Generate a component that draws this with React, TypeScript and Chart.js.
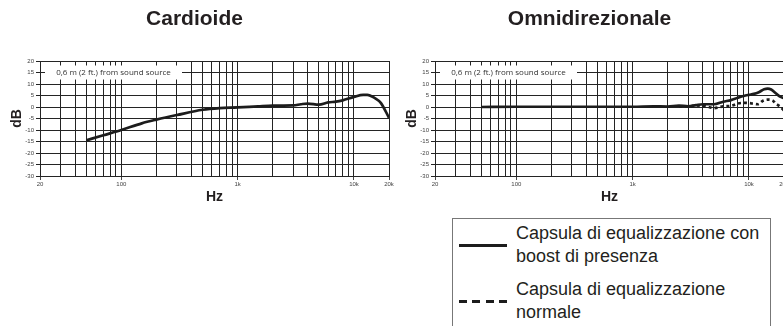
import React, { useEffect, useRef } from 'react';
import { Chart, registerables } from 'chart.js';

Chart.register(...registerables);

// ---------- data ----------
const chartTitles = ['Cardioide', 'Omnidirezionale'];
const xAxisTitle = 'Hz';
const yAxisTitle = 'dB';
const noteText = '0,6 m (2 ft.) from sound source';

const gridFreqs = [
  20, 30, 40, 50, 60, 70, 80, 90, 100, 200, 300, 400, 500, 600, 700, 800, 900,
  1000, 2000, 3000, 4000, 5000, 6000, 7000, 8000, 9000, 10000, 20000,
];
const labelFreqs = [20, 100, 1000, 10000, 20000];
const labelTexts = ['20', '100', '1k', '10k', '20k'];

const cardFreq = [50, 70, 100, 150, 200, 300, 500, 700, 1000, 1500, 2000, 3000, 3500, 4000, 5000, 6000, 7000, 8000, 10000, 12000, 13000, 15000, 17000, 20000];
const cardDb = [-14.5, -12.3, -10, -7.1, -5.5, -3.5, -1.2, -0.5, -0.2, 0.3, 0.6, 0.7, 1.2, 1.5, 1.0, 2.0, 2.3, 2.9, 4.4, 5.3, 5.3, 4.0, 1.8, -4.7];

const omniBoostFreq = [50, 100, 500, 1000, 1500, 2000, 2500, 3000, 3500, 4000, 5000, 6000, 7000, 8000, 9000, 10000, 11000, 12000, 13500, 14500, 15500, 17000, 18500, 20000];
const omniBoostDb = [0, 0.1, 0.1, 0.1, 0.3, 0.2, 0.6, 0.3, 0.8, 1.2, 1.2, 2.3, 3.0, 4.0, 4.8, 5.3, 5.7, 6.3, 7.7, 8.0, 7.6, 6.0, 4.5, 3.8];

const omniNormFreq = [2500, 3000, 3500, 4000, 4500, 5000, 6000, 7000, 8000, 9000, 10000, 11000, 12000, 13000, 14500, 16000, 17000, 18500, 20000];
const omniNormDb = [0.2, 0.1, 0.7, 0.5, 0.0, -0.5, 0.3, 0.5, 1.5, 1.8, 1.7, 1.4, 1.2, 2.5, 3.2, 2.8, 1.5, 0.2, -1.5];

const legendLabels = ['Capsula di equalizzazione con boost di presenza', 'Capsula di equalizzazione normale'];

// ---------- styles ----------
const FONT = '"Liberation Sans", Arial, Helvetica, sans-serif';
const GRID = '#242424';
const INK = '#231f20';

const toPoints = (f: number[], d: number[]) => f.map((x, i) => ({ x, y: d[i] }));

const noteBoxPlugin = {
  id: 'noteBox',
  beforeDatasetsDraw(chart: any, _args: any, opts: any) {
    const { ctx, chartArea, scales } = chart;
    const yc = scales.y.getPixelForValue(15);
    const x0 = chartArea.left + 5;
    ctx.save();
    ctx.fillStyle = '#ffffff';
    ctx.fillRect(x0, yc - 7, 137, 14);
    ctx.font = '8px "Open Sans", "Liberation Sans", sans-serif';
    ctx.fillStyle = '#333';
    ctx.textAlign = 'center';
    ctx.textBaseline = 'middle';
    ctx.fillText(opts.text, x0 + 68.5, yc + 0.5);
    ctx.restore();
  },
};

function makeConfig(title: string, datasets: any[]): any {
  return {
    type: 'line',
    data: { datasets },
    options: {
      responsive: false,
      animation: false,
      events: [],
      layout: { padding: { left: 0, right: 6, top: 0, bottom: 0 } },
      elements: { point: { radius: 0 } },
      plugins: {
        legend: { display: false },
        tooltip: { enabled: false },
        title: {
          display: true,
          text: title,
          color: INK,
          font: { family: FONT, size: 21, weight: 'bold', lineHeight: 1.2 },
          padding: { top: 7, bottom: 28.8 },
        },
        noteBox: { text: noteText },
      },
      scales: {
        x: {
          type: 'logarithmic',
          min: 20,
          max: 20000,
          afterBuildTicks: (s: any) => {
            s.ticks = gridFreqs.map((v) => ({ value: v }));
          },
          afterFit: (s: any) => {
            s.height = 39;
          },
          ticks: {
            autoSkip: false,
            maxRotation: 0,
            minRotation: 0,
            padding: 1,
            color: '#444',
            font: { family: FONT, size: 6 },
            callback: (v: any) => {
              const i = labelFreqs.indexOf(Number(v));
              return i >= 0 ? labelTexts[i] : '';
            },
          },
          grid: {
            color: GRID,
            lineWidth: 1,
            tickLength: 4,
            tickColor: (c: any) => (c.tick && labelFreqs.includes(c.tick.value) ? '#444' : 'rgba(0,0,0,0)'),
          },
          border: { color: GRID, width: 1 },
          title: {
            display: true,
            text: xAxisTitle,
            color: INK,
            font: { family: FONT, size: 14, weight: 'bold', lineHeight: 1.2 },
            padding: { top: 0, bottom: 9.6 },
          },
        },
        y: {
          min: -30,
          max: 20,
          afterFit: (s: any) => {
            s.width = 40;
          },
          ticks: {
            stepSize: 5,
            padding: 2,
            color: '#444',
            font: { family: FONT, size: 6 },
          },
          grid: { color: GRID, lineWidth: 1, tickLength: 4, tickColor: GRID },
          border: { color: GRID, width: 1 },
          title: {
            display: true,
            text: yAxisTitle,
            color: INK,
            font: { family: FONT, size: 14, weight: 'bold', lineHeight: 1.2 },
            padding: { top: 8.6, bottom: 0 },
          },
        },
      },
    },
    plugins: [noteBoxPlugin],
  };
}

function FreqChart({ left, title, datasets }: { left: number; title: string; datasets: any[] }) {
  const ref = useRef<HTMLCanvasElement | null>(null);
  useEffect(() => {
    if (!ref.current) return;
    const chart = new Chart(ref.current, makeConfig(title, datasets));
    return () => chart.destroy();
  }, []);
  return (
    <canvas
      ref={ref}
      width={395}
      height={215}
      style={{ position: 'absolute', left, top: 0, width: 395, height: 215 }}
    />
  );
}

export default function App() {
  const lineStyle = { borderColor: '#1c1c1c', borderWidth: 2.7, cubicInterpolationMode: 'monotone', fill: false };
  const leftSets = [{ ...lineStyle, label: 'Cardioide', data: toPoints(cardFreq, cardDb) }];
  const rightSets = [
    { ...lineStyle, label: legendLabels[0], data: toPoints(omniBoostFreq, omniBoostDb) },
    { ...lineStyle, label: legendLabels[1], borderDash: [3, 3], data: toPoints(omniNormFreq, omniNormDb) },
  ];
  return (
    <div
      style={{
        position: 'absolute',
        left: 0,
        top: 0,
        width: 783,
        height: 326,
        overflow: 'hidden',
        background: '#fff',
      }}
    >
      <FreqChart left={0} title={chartTitles[0]} datasets={leftSets} />
      <FreqChart left={395} title={chartTitles[1]} datasets={rightSets} />
      <div
        style={{
          position: 'absolute',
          left: 452,
          top: 218,
          width: 311,
          height: 140,
          border: '1px solid #777',
          fontFamily: FONT,
          fontSize: 18,
          lineHeight: '23px',
          color: INK,
          padding: '3px 0 0 6px',
          boxSizing: 'content-box',
        }}
      >
        {legendLabels.map((lab, i) => (
          <div key={i} style={{ display: 'flex', alignItems: 'center', marginBottom: 10 }}>
            <div
              style={{
                width: 48,
                height: 3,
                marginRight: 9,
                flex: 'none',
                background:
                  i === 0
                    ? '#1c1c1c'
                    : 'repeating-linear-gradient(to right, #1c1c1c 0 8px, transparent 8px 13.33px)',
              }}
            />
            <div style={{ width: 252 }}>{lab}</div>
          </div>
        ))}
      </div>
    </div>
  );
}
